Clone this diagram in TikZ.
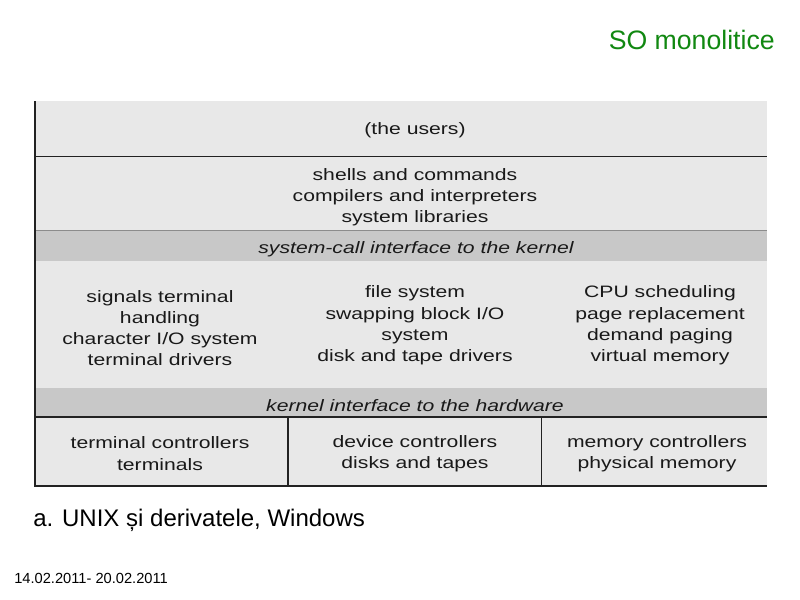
\documentclass[tikz,border=0pt]{standalone}
\usepackage{fontspec}
\setmainfont{Liberation Sans}
\newfontfamily\diagfont[FakeStretch=1.28]{Liberation Sans}
\definecolor{cellfill}{HTML}{E8E8E8}
\definecolor{bandfill}{HTML}{C8C8C8}
\definecolor{titlegreen}{HTML}{118811}
\definecolor{rulecol}{HTML}{222222}
\tikzset{
  celltext/.style={font=\diagfont\fontsize{12.4}{15.9}\selectfont, align=center, inner sep=0pt, text=black!90},
  bandtext/.style={font=\diagfont\itshape\fontsize{12.4}{15.9}\selectfont, align=center, inner sep=0pt, text=black!90},
  rule/.style={draw=rulecol, line width=1.2pt},
  softrule/.style={draw=black!45, line width=0.8pt}
}
\begin{document}
\begin{tikzpicture}[x=0.75pt,y=-0.75pt]
\useasboundingbox (0,0) rectangle (800,600);
% backgrounds
\fill[cellfill] (35,101) rectangle (767,486);
\fill[bandfill] (35,231) rectangle (767,261);
\fill[bandfill] (35,388) rectangle (767,417);
% rules
\draw[rule] (35,156.5) -- (767,156.5);
\draw[softrule] (35,230.8) -- (767,230.8);
\draw[rule] (35,417) -- (767,417);
\draw[rule] (35,486) -- (767,486);
\draw[rule] (288,417) -- (288,486);
\draw[rule] (541.5,417) -- (541.5,486);
\draw[draw=rulecol, line width=1.6pt] (35,101) -- (35,486.6);
% texts
\node[celltext] (users) at (415,130) {(the users)};
\node[celltext] (shells) at (415,197) {shells and commands\\compilers and interpreters\\system libraries};
\node[bandtext] (syscall) at (416,249) {system-call interface to the kernel};
\node[celltext] (signals) at (160,328) {signals terminal\\handling\\character I/O system\\terminal drivers};
\node[celltext] (filesys) at (415,325.5) {file system\\swapping block I/O\\system\\disk and tape drivers};
\node[celltext] (cpu) at (660,325.5) {CPU scheduling\\page replacement\\demand paging\\virtual memory};
\node[bandtext] (kernint) at (415,406) {kernel interface to the hardware};
\node[celltext] (termctl) at (160,453.5) {terminal controllers\\terminals};
\node[celltext] (devctl) at (415,453.5) {device controllers\\disks and tapes};
\node[celltext] (memctl) at (657,453.5) {memory controllers\\physical memory};
\node[anchor=east, inner sep=0pt, text=titlegreen, font=\fontsize{20}{24}\selectfont] (title) at (775,40) {SO monolitice};
\node[anchor=west, inner sep=0pt, font=\fontsize{18}{22}\selectfont] (caption) at (33,520) {a. UNIX și derivatele, Windows};
\node[anchor=west, inner sep=0pt, font=\fontsize{11}{13}\selectfont] (date) at (14,578) {14.02.2011- 20.02.2011};
\end{tikzpicture}
\end{document}
